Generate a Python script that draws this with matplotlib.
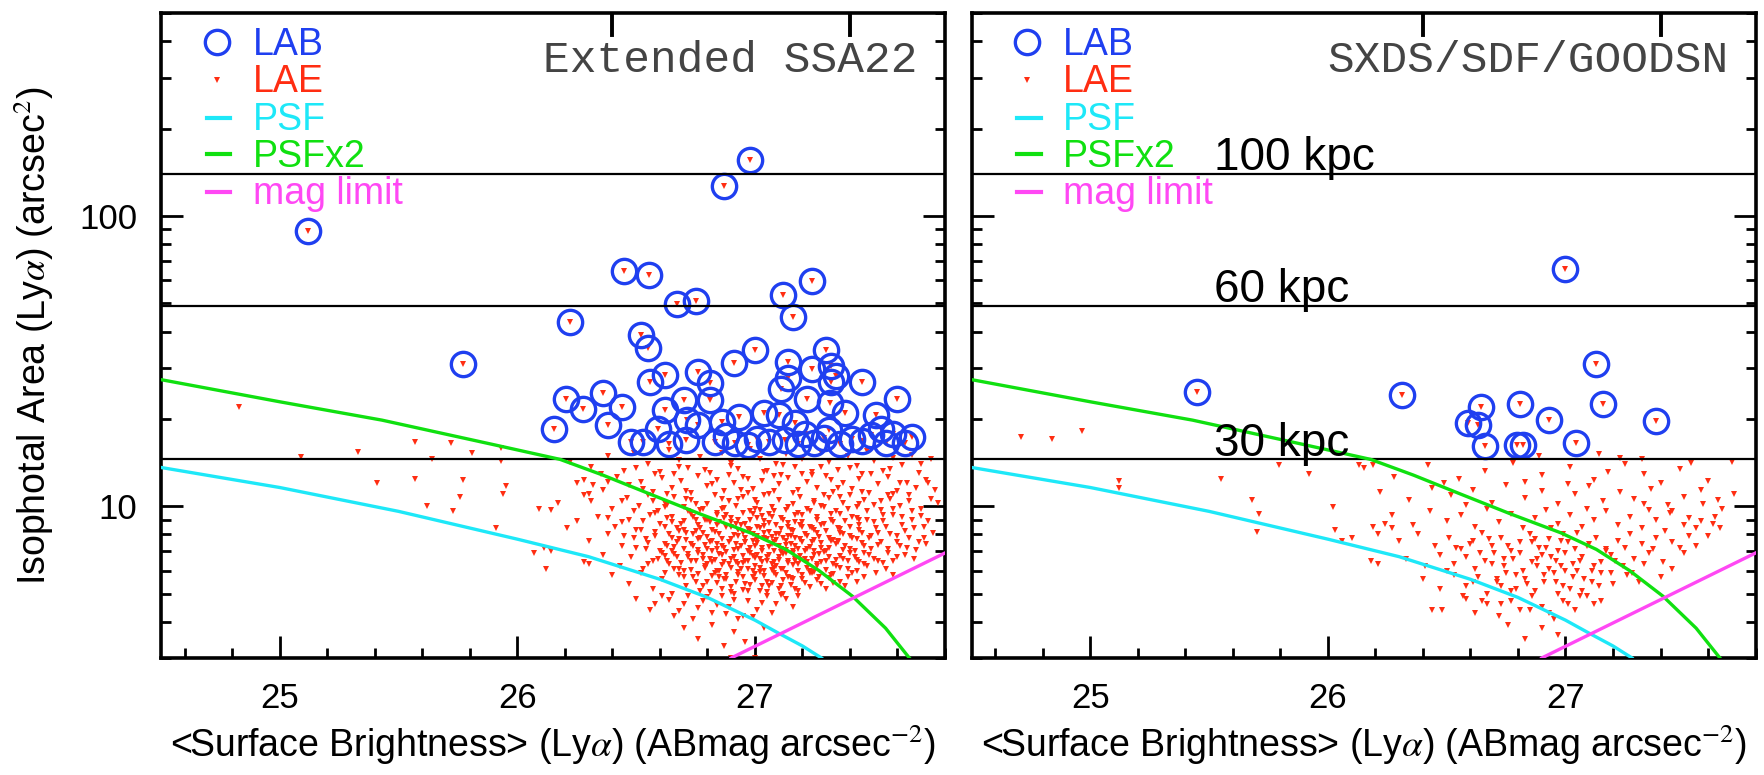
import numpy as np
import matplotlib.pyplot as plt
from matplotlib.ticker import FixedLocator, MultipleLocator, LogLocator, NullFormatter

plt.rcParams["font.family"] = "Liberation Sans"
plt.rcParams["mathtext.fontset"] = "stix"

# ---- model curves ----
psf_x = [24.5, 25.0, 25.5, 26.0, 26.3, 26.6, 26.8, 27.0, 27.1, 27.2, 27.28]
psf_y = [13.6, 11.6, 9.6, 7.7, 6.7, 5.6, 4.85, 4.05, 3.65, 3.3, 3.0]
psf2_x = [24.5, 25.0, 25.43, 25.9, 26.18, 26.36, 26.56, 26.77, 26.98, 27.13, 27.27, 27.41, 27.55, 27.65]
psf2_y = [27.3, 22.9, 19.8, 16.3, 14.5, 12.8, 11.0, 9.4, 8.1, 7.1, 6.0, 4.9, 3.8, 3.0]
maglim_x = [26.9, 27.8]
maglim_y = [3.0, 6.9]

kpc_levels = [140, 49, 14.5]
kpc_labels = ["100 kpc", "60 kpc", "30 kpc"]
top_ticks = [26.4, 27.4]

panel_titles = ["Extended SSA22", "SXDS/SDF/GOODSN"]
legend_labels = ["LAB", "LAE", "PSF", "PSFx2", "mag limit"]

# ---- LABs ----
lab_left = [
    (25.12, 89), (25.77, 30.8), (26.98, 156), (26.87, 127), (26.45, 64.7),
    (26.555, 62.4), (27.24, 59.5), (27.12, 53.3), (26.67, 49.6), (26.75, 50.8),
    (26.22, 43.3), (27.16, 44.8), (26.52, 38.8), (26.55, 35.1), (27.0, 34.6),
    (26.91, 31.2), (27.3, 34.6), (27.32, 30.5), (27.34, 28.2), (27.14, 27.6),
    (26.76, 29.1), (26.62, 28.4), (27.24, 29.6), (27.14, 31.3),
    (26.155, 18.5), (26.204, 23.5), (26.275, 21.7), (26.36, 24.5), (26.38, 19.1),
    (26.44, 22.0), (26.53, 16.7), (26.56, 26.8), (26.59, 18.5), (26.70, 23.2),
    (26.715, 19.8), (26.71, 16.9), (26.81, 23.2), (26.81, 26.5), (26.76, 19.1),
    (26.83, 16.7), (26.935, 20.3), (26.915, 16.5), (27.01, 17.1), (27.11, 25.4),
    (27.10, 20.6), (27.125, 16.9), (27.17, 19.3), (27.22, 23.5), (27.21, 17.8),
    (27.25, 16.5), (27.315, 22.6), (27.31, 18.3), (27.32, 26.8), (27.41, 17.1),
    (27.45, 26.8), (27.51, 20.6), (27.49, 17.6), (27.55, 16.5), (27.60, 23.5),
    (27.63, 16.5), (27.58, 17.8),
    (26.48, 16.6), (26.64, 16.4), (26.88, 17.4), (26.97, 16.3), (27.06, 16.6),
    (27.18, 16.4), (27.29, 17.2), (27.36, 16.4), (27.45, 16.8), (27.66, 17.3),
    (27.53, 18.4), (26.86, 19.5), (27.04, 20.9), (26.62, 21.4), (27.38, 21.0),
]
lab_right = [
    (25.45, 24.8), (26.31, 24.2), (26.59, 19.4), (26.63, 19.1), (26.645, 22.0),
    (26.66, 16.1), (26.795, 16.2), (26.82, 16.2), (26.81, 22.5), (26.93, 19.9),
    (27.045, 16.5), (27.16, 22.5), (27.38, 19.6), (27.00, 65.6), (27.13, 31.0),
]

# ---- LAEs ----
lae_left = [
    # faint tail at bright surface brightness
    (24.83, 21.9), (25.09, 14.8), (25.33, 15.4), (25.57, 16.6), (25.64, 14.6), (25.72, 16.5),
    (25.81, 15.2), (25.93, 15.9), (25.93, 14.3), (25.41, 12.0), (25.57, 12.4), (25.77, 12.3),
    (25.95, 11.7), (25.94, 11.0), (25.76, 10.8), (25.62, 10.0), (25.73, 9.6), (25.91, 8.4),
    (26.09, 9.8), (26.14, 9.7), (26.17, 10.3), (26.21, 8.4), (26.07, 6.9), (26.11, 7.2),
    (26.14, 7.0), (26.12, 6.1), (26.30, 6.3), (26.25, 12.0), (26.32, 11.8), (26.28, 10.9),
    # 13 - 16
    (26.22, 14.2), (26.31, 13.6), (26.38, 14.9), (26.45, 13.2), (26.49, 15.3), (26.55, 14.0),
    (26.60, 13.1), (26.64, 15.6), (26.68, 14.4), (26.72, 13.5), (26.77, 14.8), (26.81, 13.0),
    (26.86, 15.2), (26.90, 14.1), (26.93, 13.4), (26.98, 15.7), (27.02, 14.6), (27.05, 13.2),
    (27.09, 14.0), (27.13, 15.1), (27.17, 13.6), (27.20, 14.5), (27.24, 13.1), (27.28, 15.4),
    (27.31, 14.2), (27.35, 13.3), (27.39, 14.9), (27.43, 13.8), (27.47, 15.5), (27.50, 14.3),
    (27.54, 13.2), (27.58, 14.7), (27.62, 13.9), (27.66, 15.0), (27.70, 14.0), (27.74, 14.6),
    (26.66, 12.9), (27.11, 12.8), (27.45, 12.9), (26.35, 12.9),
    # 11 - 13
    (26.28, 12.3), (26.36, 11.4), (26.42, 12.6), (26.47, 11.8), (26.52, 12.1), (26.57, 11.2),
    (26.61, 12.5), (26.65, 11.6), (26.69, 12.2), (26.73, 11.1), (26.76, 12.7), (26.80, 11.7),
    (26.84, 12.3), (26.87, 11.3), (26.91, 12.0), (26.95, 12.6), (26.99, 11.5), (27.03, 12.2),
    (27.06, 11.0), (27.10, 11.9), (27.14, 12.5), (27.18, 11.4), (27.22, 12.1), (27.26, 11.6),
    (27.30, 12.7), (27.33, 11.2), (27.37, 12.0), (27.41, 11.5), (27.44, 12.4), (27.48, 11.1),
    (27.52, 11.9), (27.56, 12.6), (27.60, 11.3), (27.64, 12.0), (27.68, 11.6), (27.72, 12.3),
    (27.76, 11.4), (26.97, 11.1), (27.24, 12.8), (26.63, 11.0), (27.08, 12.7), (27.35, 11.6),
    (27.58, 11.0), (26.89, 12.8),
    # 9.5 - 11
    (26.31, 10.4), (26.40, 9.8), (26.46, 10.7), (26.51, 10.0), (26.55, 10.9), (26.59, 9.6),
    (26.62, 10.3), (26.66, 10.8), (26.70, 9.9), (26.73, 10.5), (26.77, 9.7), (26.80, 10.2),
    (26.83, 10.9), (26.86, 9.8), (26.89, 10.4), (26.92, 10.0), (26.95, 10.8), (26.98, 9.6),
    (27.01, 10.3), (27.04, 10.9), (27.07, 9.9), (27.10, 10.5), (27.13, 9.7), (27.16, 10.2),
    (27.19, 10.8), (27.22, 9.8), (27.25, 10.4), (27.28, 10.0), (27.31, 10.7), (27.34, 9.6),
    (27.37, 10.3), (27.40, 10.9), (27.43, 9.9), (27.46, 10.5), (27.50, 10.1), (27.53, 9.7),
    (27.57, 10.6), (27.61, 10.0), (27.65, 10.4), (27.70, 9.8), (27.74, 10.6), (26.93, 10.6),
    (27.02, 9.7), (27.18, 9.5), (27.29, 10.9), (26.71, 10.6), (26.84, 9.5), (27.44, 10.2),
    (27.56, 10.9), (26.57, 10.4),
    # 8.2 - 9.5
    (26.25, 8.9), (26.34, 9.2), (26.41, 8.5), (26.47, 9.0), (26.52, 8.3), (26.56, 9.3),
    (26.60, 8.7), (26.63, 9.1), (26.67, 8.4), (26.70, 8.9), (26.73, 9.4), (26.76, 8.6),
    (26.79, 9.0), (26.82, 8.3), (26.85, 8.8), (26.88, 9.3), (26.90, 8.5), (26.93, 9.0),
    (26.96, 8.7), (26.99, 9.4), (27.02, 8.4), (27.04, 8.9), (27.07, 9.2), (27.09, 8.6),
    (27.12, 9.0), (27.15, 8.3), (27.17, 8.8), (27.20, 9.3), (27.23, 8.5), (27.26, 9.0),
    (27.29, 8.7), (27.32, 9.4), (27.35, 8.4), (27.38, 8.9), (27.41, 9.2), (27.44, 8.6),
    (27.47, 9.0), (27.51, 8.4), (27.54, 8.9), (27.58, 9.3), (27.62, 8.6), (27.66, 9.0),
    (27.71, 8.5), (26.98, 8.3), (27.06, 9.4), (27.14, 8.5), (26.87, 9.1), (26.75, 8.2),
    (27.25, 8.3), (27.33, 8.8), (26.94, 8.6), (27.01, 9.1), (27.19, 8.6), (27.40, 8.5),
    (26.65, 8.8),
    # 7.0 - 8.2
    (26.30, 7.6), (26.38, 8.0), (26.44, 7.3), (26.49, 7.8), (26.54, 7.1), (26.58, 7.9),
    (26.62, 7.4), (26.65, 7.0), (26.68, 7.7), (26.71, 8.1), (26.74, 7.3), (26.77, 7.8),
    (26.80, 7.1), (26.82, 7.6), (26.85, 8.0), (26.87, 7.2), (26.90, 7.7), (26.92, 7.4),
    (26.95, 8.1), (26.97, 7.0), (26.99, 7.6), (27.01, 7.9), (27.03, 7.2), (27.05, 7.7),
    (27.07, 7.4), (27.09, 8.0), (27.11, 7.1), (27.13, 7.6), (27.15, 7.9), (27.17, 7.3),
    (27.19, 7.7), (27.21, 7.0), (27.24, 7.5), (27.26, 8.1), (27.28, 7.2), (27.31, 7.8),
    (27.34, 7.4), (27.37, 8.0), (27.40, 7.1), (27.43, 7.7), (27.46, 7.3), (27.49, 7.9),
    (27.53, 7.5), (27.57, 8.0), (27.61, 7.3), (27.65, 7.8), (27.69, 7.5), (26.93, 7.9),
    (27.00, 7.3), (27.04, 8.1), (27.12, 7.8), (27.16, 7.0), (27.22, 7.9), (27.30, 7.0),
    (26.84, 7.4), (26.96, 7.5), (27.08, 7.0), (26.78, 8.1), (27.35, 7.6), (27.45, 8.1),
    # 6.0 - 7.0
    (26.28, 6.4), (26.36, 6.8), (26.43, 6.2), (26.48, 6.7), (26.53, 6.1), (26.57, 6.5),
    (26.61, 6.9), (26.64, 6.3), (26.67, 6.7), (26.70, 6.0), (26.73, 6.5), (26.76, 6.9),
    (26.79, 6.2), (26.81, 6.6), (26.84, 6.0), (26.86, 6.8), (26.89, 6.3), (26.91, 6.7),
    (26.94, 6.1), (26.96, 6.5), (26.98, 6.9), (27.00, 6.2), (27.02, 6.6), (27.04, 6.0),
    (27.06, 6.8), (27.08, 6.4), (27.10, 6.7), (27.12, 6.1), (27.14, 6.5), (27.16, 6.9),
    (27.18, 6.3), (27.21, 6.6), (27.23, 6.0), (27.25, 6.8), (27.28, 6.4), (27.31, 6.7),
    (27.34, 6.2), (27.37, 6.6), (27.40, 6.9), (27.44, 6.4), (27.48, 6.8), (27.52, 6.5),
    (27.56, 6.9), (27.60, 6.7), (26.92, 6.4), (27.01, 6.8), (27.09, 6.2), (27.17, 6.6),
    (26.82, 6.4), (27.26, 6.2), (26.99, 6.0), (27.13, 6.9),
    # 5.0 - 6.0
    (26.40, 5.8), (26.47, 5.4), (26.52, 5.9), (26.57, 5.2), (26.61, 5.6), (26.65, 5.0),
    (26.68, 5.8), (26.71, 5.3), (26.74, 5.7), (26.77, 5.1), (26.80, 5.5), (26.83, 5.9),
    (26.86, 5.2), (26.88, 5.6), (26.91, 5.0), (26.93, 5.8), (26.96, 5.4), (26.99, 5.7),
    (27.02, 5.1), (27.05, 5.5), (27.08, 5.9), (27.11, 5.3), (27.14, 5.7), (27.17, 5.2),
    (27.20, 5.6), (27.24, 5.9), (27.28, 5.4), (27.32, 5.8), (27.36, 5.5), (27.41, 5.9),
    (27.46, 5.7), (26.85, 5.7), (26.97, 5.1), (27.06, 5.3), (26.75, 5.5), (27.12, 5.0),
    # 4.0 - 5.0
    (26.50, 4.8), (26.56, 4.4), (26.61, 4.9), (26.66, 4.2), (26.70, 4.6), (26.74, 4.1),
    (26.78, 4.7), (26.82, 4.3), (26.86, 4.9), (26.89, 4.5), (26.93, 4.1), (26.97, 4.7),
    (27.01, 4.4), (27.05, 4.9), (27.09, 4.6), (27.13, 4.8), (27.18, 4.9), (26.72, 4.9),
    (26.95, 4.2),
    # 3.0 - 4.0
    (26.70, 3.8), (26.76, 3.5), (26.82, 3.9), (26.87, 3.3), (26.91, 3.7), (26.96, 3.4),
    (27.00, 3.0), (26.90, 3.0), (27.04, 3.8),
]
# the crowded core of the SSA22 cloud
lae_left_core = [
    (26.78, 5.3), (26.81, 5.05), (26.84, 5.45), (26.87, 5.6), (26.90, 5.25), (26.92, 5.5),
    (26.95, 5.15), (26.98, 5.35), (27.00, 5.55), (27.03, 5.3), (27.05, 5.05), (27.07, 5.45),
    (27.10, 5.2), (27.12, 5.55), (27.15, 5.35), (27.18, 5.1), (27.21, 5.45), (27.23, 5.25),
    (27.26, 5.55), (27.30, 5.2), (27.33, 5.45), (27.38, 5.3), (27.43, 5.5), (26.90, 5.05),
    (27.16, 5.6),
    (26.62, 5.9), (26.66, 6.1), (26.70, 5.7), (26.73, 6.05), (26.76, 5.85), (26.79, 6.15),
    (26.82, 5.75), (26.85, 6.0), (26.88, 5.8), (26.90, 6.15), (26.93, 5.95), (26.95, 5.7),
    (26.97, 6.1), (27.00, 5.85), (27.02, 6.15), (27.04, 5.75), (27.07, 6.05), (27.09, 5.8),
    (27.11, 6.1), (27.13, 5.9), (27.15, 5.65), (27.18, 6.0), (27.20, 5.8), (27.22, 6.15),
    (27.25, 5.95), (27.27, 5.7), (27.30, 6.05), (27.33, 5.85), (27.36, 6.15), (27.39, 5.7),
    (27.43, 6.0), (27.47, 6.2), (27.51, 5.9), (27.55, 6.1), (27.58, 5.8),
    (26.55, 6.3), (26.59, 6.6), (26.63, 6.45), (26.66, 6.85), (26.69, 6.35), (26.72, 6.7),
    (26.75, 6.45), (26.78, 6.8), (26.80, 6.3), (26.83, 6.55), (26.85, 6.85), (26.87, 6.4),
    (26.90, 6.6), (26.93, 6.3), (26.95, 6.75), (26.97, 6.45), (27.00, 6.65), (27.03, 6.4),
    (27.05, 6.7), (27.07, 6.3), (27.10, 6.55), (27.12, 6.85), (27.14, 6.35), (27.17, 6.45),
    (27.19, 6.75), (27.22, 6.4), (27.24, 6.6), (27.27, 6.85), (27.30, 6.5), (27.33, 6.3),
    (27.36, 6.75), (27.39, 6.45), (27.42, 6.7), (27.46, 6.3), (27.50, 6.6), (27.54, 6.35),
    (27.58, 6.5), (27.63, 6.8), (27.67, 6.6),
    (26.50, 7.2), (26.55, 7.45), (26.60, 7.0), (26.63, 7.3), (26.67, 7.5), (26.70, 7.15),
    (26.73, 7.4), (26.76, 7.05), (26.79, 7.35), (26.81, 7.55), (26.84, 7.1), (26.86, 7.3),
    (26.89, 7.5), (26.91, 7.05), (26.94, 7.3), (26.96, 7.55), (26.98, 7.2), (27.01, 7.45),
    (27.03, 7.0), (27.06, 7.25), (27.08, 7.55), (27.10, 7.3), (27.13, 7.05), (27.15, 7.4),
    (27.18, 7.15), (27.20, 7.5), (27.23, 7.25), (27.25, 7.0), (27.28, 7.45), (27.31, 7.2),
    (27.35, 7.5), (27.38, 7.3), (27.42, 7.0), (27.45, 7.45), (27.49, 7.15), (27.52, 7.35),
    (27.56, 7.1), (27.60, 7.55), (27.64, 7.2), (27.68, 7.05), (27.72, 7.4),
    (26.45, 7.9), (26.50, 8.3), (26.54, 7.7), (26.58, 8.15), (26.62, 8.45), (26.65, 7.8),
    (26.68, 8.2), (26.71, 7.65), (26.74, 8.0), (26.77, 8.4), (26.80, 7.85), (26.83, 8.15),
    (26.86, 7.7), (26.88, 8.5), (26.91, 7.95), (26.93, 8.25), (26.96, 7.75), (26.99, 8.05),
    (27.01, 8.45), (27.04, 7.8), (27.06, 8.15), (27.09, 7.65), (27.11, 8.35), (27.14, 7.9),
    (27.16, 8.2), (27.19, 7.7), (27.21, 8.05), (27.24, 8.4), (27.27, 7.85), (27.30, 8.2),
    (27.33, 7.65), (27.36, 8.1), (27.40, 7.9), (27.44, 8.3), (27.48, 7.75), (27.52, 8.1),
    (27.55, 8.45), (27.60, 7.9), (27.63, 8.2), (27.67, 8.4), (27.71, 7.8), (27.75, 8.1),
    (26.38, 9.1), (26.44, 8.8), (26.49, 9.6), (26.53, 8.9), (26.58, 9.45), (26.62, 9.9),
    (26.65, 9.2), (26.69, 8.7), (26.72, 9.6), (26.75, 9.0), (26.78, 9.75), (26.81, 8.8),
    (26.84, 9.3), (26.87, 9.85), (26.90, 9.1), (26.92, 8.7), (26.95, 9.5), (26.98, 9.0),
    (27.00, 9.8), (27.03, 9.25), (27.06, 8.75), (27.08, 9.6), (27.11, 9.1), (27.14, 9.9),
    (27.17, 9.3), (27.20, 8.8), (27.23, 9.65), (27.26, 9.2), (27.29, 9.9), (27.32, 9.0),
    (27.36, 9.4), (27.39, 9.8), (27.43, 9.1), (27.47, 9.6), (27.50, 8.8), (27.54, 9.3),
    (27.58, 9.75), (27.62, 9.2), (27.66, 9.6), (27.70, 9.25), (27.73, 8.9),
    (26.30, 11.0), (26.38, 12.1), (26.44, 10.4), (26.50, 13.5), (26.53, 11.5), (26.58, 12.9),
    (26.63, 10.1), (26.68, 13.7), (26.71, 11.3), (26.75, 10.2), (26.79, 13.3), (26.82, 11.9),
    (26.86, 10.6), (26.90, 13.8), (26.94, 11.4), (26.97, 12.4), (27.00, 10.5), (27.04, 13.1),
    (27.08, 11.3), (27.12, 13.9), (27.16, 11.1), (27.20, 12.9), (27.25, 10.3), (27.28, 13.7),
    (27.32, 12.3), (27.36, 10.8), (27.40, 13.5), (27.45, 11.2), (27.49, 12.9), (27.53, 10.4),
    (27.57, 13.4), (27.61, 12.0), (27.65, 10.9), (27.69, 13.0), (27.73, 12.0), (27.77, 10.3),
    (26.58, 4.6), (26.64, 4.75), (26.68, 4.35), (26.76, 4.45), (26.80, 4.85), (26.84, 4.55),
    (26.88, 4.25), (26.91, 4.75), (26.99, 4.15), (27.03, 4.65), (27.07, 4.3), (27.11, 4.95),
    (27.16, 4.5),
    (26.88, 6.95), (26.90, 8.8), (26.93, 7.15), (26.95, 6.35), (26.97, 8.35), (26.99, 6.75),
    (27.01, 7.65), (27.02, 5.95), (27.04, 8.55), (27.05, 6.45), (27.07, 7.85), (27.08, 6.15),
    (27.10, 8.05), (27.11, 6.95), (27.13, 7.35), (27.14, 8.75), (27.16, 6.25), (27.17, 7.75),
    (27.19, 6.55), (27.20, 8.45), (27.22, 7.1), (27.23, 5.9), (27.25, 7.65), (27.26, 6.3),
    (27.28, 8.6), (27.29, 6.95), (27.31, 5.65), (27.32, 7.6), (27.34, 6.55), (27.36, 8.35),
    (27.37, 7.05), (27.39, 6.1), (27.41, 7.8), (27.43, 6.55), (27.44, 8.95), (27.46, 6.9),
    (26.86, 6.25), (26.84, 8.6), (26.82, 7.0), (26.80, 8.95), (26.78, 6.6), (26.76, 7.7),
    (26.74, 9.2), (26.72, 6.85), (26.70, 8.3), (26.68, 6.1), (26.66, 7.25), (26.64, 8.0),
    (26.62, 6.75),
]
lae_right = [
    (24.71, 17.3), (24.84, 17.0), (24.965, 18.2), (25.12, 12.2), (25.12, 11.6), (25.55, 12.4),
    (25.68, 10.5), (25.71, 9.4), (25.70, 8.15), (25.795, 13.9), (25.92, 12.9), (26.02, 9.9),
    (26.03, 8.3), (26.10, 7.8), (26.06, 7.6), (26.19, 8.5), (26.21, 8.0), (26.18, 6.5),
    (26.21, 6.3), (26.13, 13.9), (26.19, 13.9),
    # above the 30 kpc line
    (26.89, 14.9), (27.14, 15.1), (27.23, 14.7), (27.32, 14.6),
    # 12 - 14.5
    (26.15, 13.5), (26.28, 12.6), (26.42, 13.9), (26.55, 12.4), (26.66, 13.2), (26.78, 14.1),
    (26.90, 12.8), (27.02, 13.6), (27.12, 12.3), (27.25, 14.0), (27.33, 12.9), (27.48, 13.4),
    (27.60, 12.2), (27.70, 14.2), (26.83, 12.1), (27.18, 13.1), (26.49, 12.0), (27.40, 12.0),
    (27.53, 14.1),
    # 10 - 12
    (26.22, 11.2), (26.34, 10.5), (26.44, 11.6), (26.52, 10.9), (26.61, 11.4), (26.69, 10.3),
    (26.75, 11.8), (26.83, 10.7), (26.90, 11.3), (26.97, 10.2), (27.04, 11.0), (27.10, 11.7),
    (27.16, 10.4), (27.23, 11.2), (27.29, 10.6), (27.36, 11.5), (27.43, 10.1), (27.50, 10.8),
    (27.57, 11.4), (27.64, 10.5), (27.71, 11.0), (26.58, 10.1), (27.01, 11.9), (27.33, 10.2),
    # 8.3 - 10
    (26.27, 9.3), (26.36, 8.6), (26.43, 9.6), (26.50, 8.9), (26.56, 9.3), (26.62, 8.5),
    (26.67, 9.8), (26.72, 8.8), (26.77, 9.4), (26.82, 8.4), (26.87, 9.1), (26.92, 9.7),
    (26.97, 8.7), (27.02, 9.3), (27.07, 8.5), (27.12, 9.0), (27.17, 9.6), (27.22, 8.6),
    (27.27, 9.2), (27.32, 8.4), (27.38, 9.0), (27.44, 9.5), (27.50, 8.6), (27.57, 8.9),
    (27.63, 9.2), (26.94, 8.4), (27.09, 9.8), (27.35, 9.7),
    # 7 - 8.3
    (26.30, 7.6), (26.38, 8.0), (26.45, 7.3), (26.51, 7.8), (26.56, 7.1), (26.61, 7.6),
    (26.65, 8.1), (26.69, 7.3), (26.73, 7.8), (26.77, 7.0), (26.81, 7.5), (26.85, 8.0),
    (26.89, 7.2), (26.93, 7.7), (26.97, 7.0), (27.01, 7.5), (27.05, 8.1), (27.09, 7.3),
    (27.13, 7.8), (27.17, 7.1), (27.22, 7.6), (27.27, 8.0), (27.32, 7.4), (27.38, 7.8),
    (27.45, 7.5), (27.52, 7.9), (26.99, 8.0), (26.87, 7.7),
    # 6 - 7
    (26.33, 6.6), (26.41, 6.2), (26.47, 6.8), (26.53, 6.3), (26.58, 6.7), (26.62, 6.1),
    (26.66, 6.5), (26.70, 6.9), (26.74, 6.2), (26.78, 6.6), (26.82, 6.0), (26.86, 6.4),
    (26.90, 6.8), (26.93, 6.1), (26.96, 6.5), (27.00, 6.9), (27.03, 6.3), (27.07, 6.7),
    (27.11, 6.0), (27.15, 6.4), (27.19, 6.8), (27.24, 6.2), (27.29, 6.6), (27.35, 6.9),
    (27.41, 6.4), (26.98, 6.2), (27.05, 6.0), (26.88, 6.6),
    # 5 - 6
    (26.40, 5.6), (26.47, 5.2), (26.53, 5.8), (26.58, 5.3), (26.63, 5.7), (26.67, 5.0),
    (26.71, 5.5), (26.75, 5.9), (26.79, 5.2), (26.83, 5.6), (26.87, 5.1), (26.91, 5.5),
    (26.95, 5.9), (26.99, 5.3), (27.03, 5.7), (27.07, 5.1), (27.11, 5.5), (27.15, 5.9),
    (27.20, 5.4), (27.26, 5.8), (27.31, 5.5), (26.73, 5.3), (26.97, 5.0),
    # 3.3 - 5
    (26.44, 4.4), (26.48, 4.4), (26.58, 4.8), (26.62, 4.3), (26.67, 4.6), (26.72, 4.2),
    (26.77, 4.7), (26.81, 4.4), (26.86, 4.9), (26.90, 4.5), (26.95, 4.1), (26.99, 4.7),
    (27.04, 4.4), (27.09, 4.9), (27.15, 4.7), (26.76, 3.9), (26.83, 3.5), (26.90, 3.8),
    (26.97, 3.6),
]
lae_right_core = [
    (26.60, 7.4), (26.64, 6.9), (26.68, 7.7), (26.71, 5.6), (26.74, 6.6), (26.76, 7.3),
    (26.79, 5.8), (26.81, 6.9), (26.84, 5.4), (26.86, 7.5), (26.88, 6.2), (26.91, 5.8),
    (26.92, 7.2), (26.94, 6.7), (26.96, 5.5), (26.98, 7.6), (27.00, 6.0), (27.02, 5.2),
    (27.04, 7.1), (27.06, 6.5), (27.08, 5.6), (27.10, 7.4), (27.12, 6.2), (27.14, 5.3),
    (27.17, 7.0), (27.19, 5.9), (27.21, 6.5), (27.25, 7.2), (27.28, 5.9), (27.33, 6.3),
    (27.37, 7.1), (27.40, 5.7), (27.45, 6.1), (27.50, 6.9), (27.55, 7.3), (26.50, 6.0),
    (26.54, 7.2), (26.57, 4.9), (26.61, 5.5), (26.65, 4.7), (26.69, 6.3), (26.73, 4.6),
    (26.77, 5.1), (26.85, 4.4), (26.93, 4.3), (27.01, 4.6), (27.06, 4.9), (27.12, 4.6),
    (27.45, 9.6), (27.52, 9.1), (27.58, 10.2), (27.62, 8.7), (27.66, 9.8), (27.42, 8.2),
    (27.48, 7.2), (27.55, 8.4), (27.60, 7.9), (27.65, 8.4), (26.24, 8.7), (26.27, 8.4),
]

blue = "#1f3ff0"
red = "#ff2d12"
cyan = "#1ee8f8"
green = "#10e010"
magenta = "#ff48f4"

fig = plt.figure(figsize=(17.64, 7.75), dpi=100)
ax_l = fig.add_axes([0.0913, 0.151, 0.4444, 0.832])
ax_r = fig.add_axes([0.5508, 0.151, 0.4444, 0.832])


def draw_panel(ax, labs, laes, title, left_labels, kpc_text):
    lab_x = [p[0] for p in labs]
    lab_y = [p[1] for p in labs]
    lae_x = [p[0] for p in laes] + lab_x
    lae_y = [p[1] for p in laes] + lab_y

    ax.plot(lae_x, lae_y, "v", ms=5.0, color=red, mew=0, zorder=2)
    ax.plot(lab_x, lab_y, "o", ms=17.5, mfc="none", mec=blue, mew=2.4, zorder=3)

    for lev in kpc_levels:
        ax.axhline(lev, color="black", lw=1.6, zorder=4)
    if kpc_text:
        for lev, lab in zip(kpc_levels, kpc_labels):
            ax.text(25.52, lev * 1.03, lab, fontsize=33, va="baseline", ha="left", zorder=5)

    ax.plot(psf_x, psf_y, color=cyan, lw=2.4, zorder=4)
    ax.plot(psf2_x, psf2_y, color=green, lw=2.4, zorder=4)
    ax.plot(maglim_x, maglim_y, color=magenta, lw=2.4, zorder=4)

    ax.set_yscale("log")
    ax.set_xlim(24.5, 27.8)
    ax.set_ylim(3, 500)
    ax.xaxis.set_major_locator(FixedLocator([25, 26, 27]))
    ax.xaxis.set_minor_locator(MultipleLocator(0.2))
    ax.yaxis.set_major_locator(FixedLocator([10, 100]))
    ax.yaxis.set_minor_locator(LogLocator(base=10, subs=np.arange(2, 10)))
    ax.yaxis.set_minor_formatter(NullFormatter())
    if left_labels:
        ax.set_yticklabels(["10", "100"])
    else:
        ax.set_yticklabels([])
    ax.tick_params(which="both", direction="in", width=2.0, labelsize=25,
                   left=True, right=True, top=False, bottom=True)
    ax.tick_params(which="major", length=16, pad=17)
    ax.tick_params(which="minor", length=7.5)
    for sp in ax.spines.values():
        sp.set_linewidth(2.6)

    # two unlabelled marks hanging from the top frame
    for tx in top_ticks:
        ax.plot([tx, tx], [1.0, 0.966], color="black", lw=2.8,
                transform=ax.get_xaxis_transform(), zorder=5)

    ax.set_xlabel(r"<Surface Brightness> (Ly$\alpha$) (ABmag arcsec$^{-2}$)",
                  fontsize=27, labelpad=6)

    ax.text(0.965, 0.9085, title, transform=ax.transAxes, ha="right", va="baseline",
            fontsize=32, family="Liberation Mono", color="#444444")

    # legend, drawn by hand
    colors = [blue, red, cyan, green, magenta]
    text_y = [0.935, 0.877, 0.819, 0.761, 0.704]
    handle_y = [0.9555, 0.896, 0.838, 0.781, 0.723]
    for i, (lab, col) in enumerate(zip(legend_labels, colors)):
        if i == 0:
            ax.plot([0.071], [handle_y[i]], "o", ms=17.5, mfc="none", mec=col, mew=2.4,
                    transform=ax.transAxes, clip_on=False)
        elif i == 1:
            ax.plot([0.071], [handle_y[i]], "v", ms=5.0, color=col, mew=0,
                    transform=ax.transAxes)
        else:
            ax.plot([0.058, 0.088], [handle_y[i]] * 2, color=col, lw=3,
                    transform=ax.transAxes)
        ax.text(0.117, text_y[i], lab, color=col, fontsize=27, va="baseline",
                transform=ax.transAxes)


draw_panel(ax_l, lab_left, lae_left + lae_left_core, panel_titles[0], True, False)
draw_panel(ax_r, lab_right, lae_right + lae_right_core, panel_titles[1], False, True)

fig.text(0.019, 0.567, r"Isophotal Area (Ly$\alpha$) (arcsec$^2$)", rotation=90,
         va="center", ha="center", fontsize=27)

fig.savefig("out.png", dpi=100)
